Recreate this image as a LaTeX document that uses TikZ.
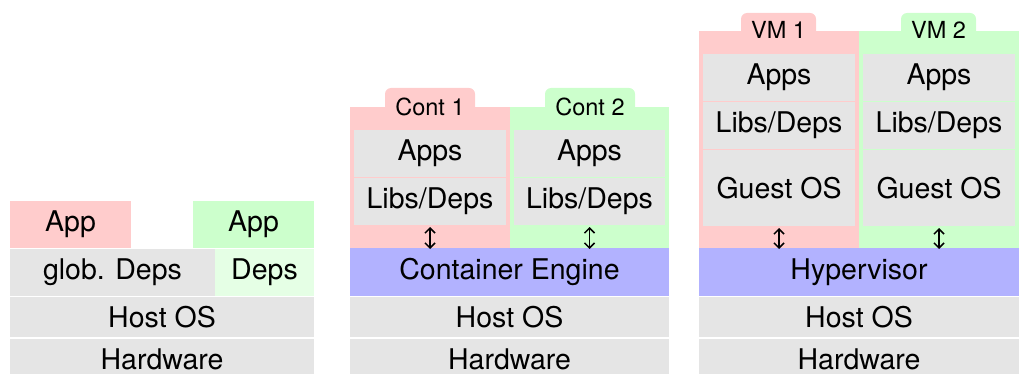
\documentclass[tikz,border=0pt]{standalone}
\usepackage{fontspec}
\setmainfont{TeX Gyre Heros}
\usetikzlibrary{arrows.meta}
\begin{document}
\begin{tikzpicture}[x=1pt,y=-1pt,
  lay/.style={inner sep=0pt,outer sep=0pt,font=\fontsize{28.5}{30}\selectfont},
  grey/.style={lay,fill=gray!20},
  tablabel/.style={inner sep=0pt,font=\fontsize{23.5}{25}\selectfont},
  updown/.style={{Straight Barb[length=5pt,width=10pt]}-{Straight Barb[length=5pt,width=10pt]},line width=1.5pt},
]
\useasboundingbox (0,0) rectangle (1035,374);
\newcommand{\lbox}[7]{% name, style, x1, y1, x2, y2, text
  \node[#2,minimum width={#5-#3},minimum height={#6-#4}] (#1) at ({(#3+#5)/2},{(#4+#6)/2}) {#7};}
% ---------- left stack ----------
\lbox{appL}{lay,fill=red!20}{10}{201}{131}{248}{App}
\lbox{appR}{lay,fill=green!20}{193}{201}{314}{248}{App}
\lbox{globdeps}{grey}{10}{249}{215}{296}{glob. Deps}
\lbox{deps}{lay,fill=green!10}{215}{249}{314}{296}{Deps}
\lbox{hostA}{grey}{10}{297}{314}{337}{Host OS}
\lbox{hwA}{grey}{10}{339}{314}{379}{Hardware}
% ---------- containers ----------
\fill[red!20,rounded corners=6pt] (385,115) -- (385,88) -- (475,88) -- (475,115) -- cycle;
\fill[green!20,rounded corners=6pt] (545,115) -- (545,88) -- (635,88) -- (635,115) -- cycle;
\lbox{cont1}{lay,fill=red!20}{350}{107}{510}{248}{}
\lbox{cont2}{lay,fill=green!20}{510}{107}{669}{248}{}
\node[tablabel] (t1) at (430,107) {Cont 1};
\node[tablabel] (t2) at (590,107) {Cont 2};
\lbox{c1apps}{grey}{354}{130}{506}{177}{Apps}
\lbox{c1libs}{grey}{354}{178}{506}{225}{Libs/Deps}
\lbox{c2apps}{grey}{514}{130}{665}{177}{Apps}
\lbox{c2libs}{grey}{514}{178}{665}{225}{Libs/Deps}
\lbox{engine}{lay,fill=blue!30}{350}{248}{669}{296}{Container Engine}
\lbox{hostB}{grey}{350}{297}{669}{337}{Host OS}
\lbox{hwB}{grey}{350}{339}{669}{379}{Hardware}
\draw[updown] ([yshift=-2pt]c1libs.south) -- ([yshift=-1pt]c1libs.south |- engine.north);
\draw[updown] ([yshift=-2pt]c2libs.south) -- ([yshift=-1pt]c2libs.south |- engine.north);
% ---------- VMs ----------
\fill[red!20,rounded corners=6pt] (741,40) -- (741,13) -- (816,13) -- (816,40) -- cycle;
\fill[green!20,rounded corners=6pt] (901,40) -- (901,13) -- (976,13) -- (976,40) -- cycle;
\lbox{vm1}{lay,fill=red!20}{699}{31}{859}{248}{}
\lbox{vm2}{lay,fill=green!20}{859}{31}{1019}{248}{}
\node[tablabel] (t3) at (778.5,30) {VM 1};
\node[tablabel] (t4) at (938.5,30) {VM 2};
\lbox{v1apps}{grey}{703}{54}{855}{101}{Apps}
\lbox{v1libs}{grey}{703}{102}{855}{149}{Libs/Deps}
\lbox{v1os}{grey}{703}{150}{855}{226}{Guest OS}
\lbox{v2apps}{grey}{863}{54}{1015}{101}{Apps}
\lbox{v2libs}{grey}{863}{102}{1015}{149}{Libs/Deps}
\lbox{v2os}{grey}{863}{150}{1015}{226}{Guest OS}
\lbox{hyper}{lay,fill=blue!30}{699}{248}{1019}{296}{Hypervisor}
\lbox{hostC}{grey}{699}{297}{1019}{337}{Host OS}
\lbox{hwC}{grey}{699}{339}{1019}{379}{Hardware}
\draw[updown] ([yshift=-2pt]v1os.south) -- ([yshift=-1pt]v1os.south |- hyper.north);
\draw[updown] ([yshift=-2pt]v2os.south) -- ([yshift=-1pt]v2os.south |- hyper.north);
\end{tikzpicture}
\end{document}
